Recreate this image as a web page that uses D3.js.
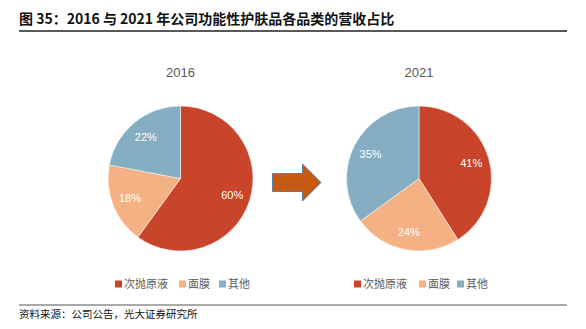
<!DOCTYPE html>
<html><head><meta charset="utf-8">
<script src="https://cdn.jsdelivr.net/npm/d3@7"></script>
<style>body{margin:0;background:#fff}svg{display:block}</style>
</head><body>
<svg id="c" width="586" height="329"></svg>
<script>
const categories = ["次抛原液", "面膜", "其他"];
const years = ["2016", "2021"];
const values2016 = [60, 18, 22];
const values2021 = [41, 24, 35];
const colors = ["#C8442A", "#F4B183", "#85AEC2"];
const titleText = "图 35：2016 与 2021 年公司功能性护肤品各品类的营收占比";
const sourceText = "资料来源：公司公告，光大证券研究所";

const svg = d3.select("#c");
const cjk = "'Noto Sans CJK SC','Noto Sans',sans-serif";
const lat = "'Liberation Sans',Arial,sans-serif";

svg.append("text").attr("x", 19).attr("y", 24).attr("font-family", cjk)
  .attr("font-weight", "bold").attr("font-size", 14).attr("fill", "#111").text(titleText);
svg.append("line").attr("x1", 19).attr("x2", 567).attr("y1", 31).attr("y2", 31)
  .attr("stroke", "#222").attr("stroke-width", 1.3);
svg.append("line").attr("x1", 19).attr("x2", 567).attr("y1", 305).attr("y2", 305)
  .attr("stroke", "#555").attr("stroke-width", 1);
svg.append("text").attr("x", 19).attr("y", 318).attr("font-family", cjk)
  .attr("font-size", 10.5).attr("fill", "#111").text(sourceText);

const color = d3.scaleOrdinal().domain(categories).range(colors);
const pie = d3.pie().sort(null).value(d => d.v);
const r = 72.5;
const arc = d3.arc().innerRadius(0).outerRadius(r);
const labelArc = d3.arc().innerRadius(r * 0.75).outerRadius(r * 0.75);

const pies = [
  {year: years[0], vals: values2016, cx: 180.5, cy: 178.5},
  {year: years[1], vals: values2021, cx: 419, cy: 178.5}
];
pies.forEach(p => {
  const g = svg.append("g").attr("transform", `translate(${p.cx},${p.cy})`);
  const data = pie(p.vals.map((v, i) => ({k: categories[i], v})));
  g.selectAll("path").data(data).join("path").attr("d", arc)
    .attr("fill", d => color(d.data.k)).attr("stroke", "#fff").attr("stroke-width", 0.5);
  g.selectAll("text.l").data(data).join("text").attr("class", "l")
    .attr("transform", d => `translate(${labelArc.centroid(d)})`)
    .attr("text-anchor", "middle").attr("dy", "0.36em")
    .attr("font-family", lat).attr("font-size", 11).attr("fill", "#fff")
    .text(d => d.data.v + "%");
  svg.append("text").attr("x", p.cx).attr("y", 77).attr("text-anchor", "middle")
    .attr("font-family", lat).attr("font-size", 13).attr("fill", "#595959").text(p.year);
});

// Legends
const legends = [
  {xs: [115, 179, 219]},
  {xs: [354, 419, 457]}
];
legends.forEach(L => {
  categories.forEach((c, i) => {
    svg.append("rect").attr("x", L.xs[i]).attr("y", 280.5).attr("width", 7).attr("height", 7)
      .attr("fill", color(c));
    svg.append("text").attr("x", L.xs[i] + 9).attr("y", 288).attr("font-family", cjk)
      .attr("font-size", 11).attr("fill", "#595959").text(c);
  });
});

// Arrow
const ax = 272.5, ay = 182.5;
const arrow = d3.path();
arrow.moveTo(ax, ay - 9);
arrow.lineTo(ax + 30, ay - 9);
arrow.lineTo(ax + 30, ay - 18.5);
arrow.lineTo(ax + 48.5, ay);
arrow.lineTo(ax + 30, ay + 18.5);
arrow.lineTo(ax + 30, ay + 9);
arrow.lineTo(ax, ay + 9);
arrow.closePath();
svg.append("path").attr("d", arrow.toString()).attr("fill", "#C55A11")
  .attr("stroke", "#41719C").attr("stroke-width", 0.8);
</script>
</body></html>
